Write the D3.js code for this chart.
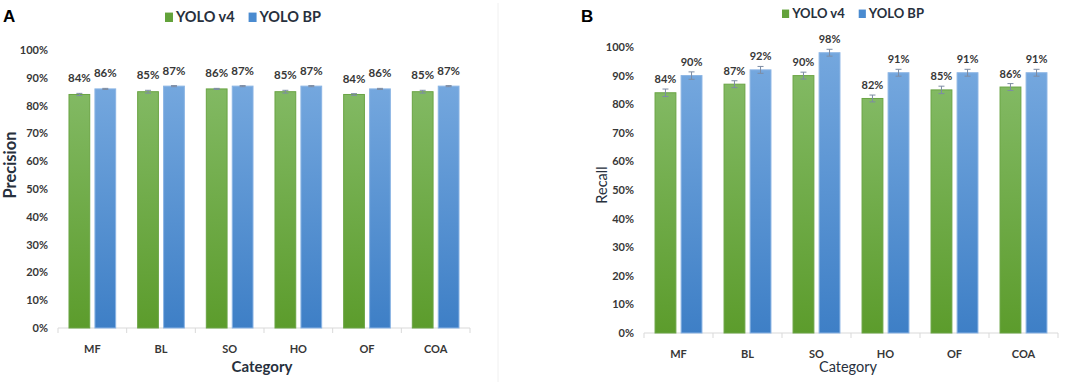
<!DOCTYPE html>
<html>
<head>
<meta charset="utf-8">
<script src="https://cdn.jsdelivr.net/npm/d3@7"></script>
<style>
  body { margin: 0; background: #fff; }
  svg { display: block; font-family: Lato, "Open Sans", sans-serif; }
</style>
</head>
<body>
<svg id="chart" width="1084" height="382"></svg>
<script>
// categories and series
const categories = ['MF', 'BL', 'SO', 'HO', 'OF', 'COA'];
const seriesNames = ['YOLO v4', 'YOLO BP'];

// precision (panel A), percent
const precisionV4 = [84, 85, 86, 85, 84, 85];
const precisionBP = [86, 87, 87, 87, 86, 87];
const precisionErrV4 = [0.4, 0.5, 0.2, 0.5, 0.3, 0.5];
const precisionErrBP = [0.2, 0.2, 0.2, 0.2, 0.2, 0.2];

// recall (panel B), percent
const recallV4 = [84, 87, 90, 82, 85, 86];
const recallBP = [90, 92, 98, 91, 91, 91];
const recallErrV4 = [1.3, 1.2, 1.2, 1.2, 1.3, 1.2];
const recallErrBP = [1.3, 1.2, 1.2, 1.2, 1.2, 1.2];

const yTicks = [0, 10, 20, 30, 40, 50, 60, 70, 80, 90, 100];

const svg = d3.select('#chart');
const textColor = '#373737';

// bar gradients
const defs = svg.append('defs');
function addGradient(id, top, bottom) {
  const g = defs.append('linearGradient')
    .attr('id', id)
    .attr('x1', 0).attr('y1', 0).attr('x2', 0).attr('y2', 1);
  g.append('stop').attr('offset', '0%').attr('stop-color', top);
  g.append('stop').attr('offset', '100%').attr('stop-color', bottom);
}
addGradient('grad-green', '#82b963', '#5c9c2c');
addGradient('grad-blue', '#74a7de', '#3e7fc6');

const fills = ['url(#grad-green)', 'url(#grad-blue)'];
const strokes = ['#6aa444', '#8ab4e4'];
const swatch = ['#62a23a', '#4a8bd0'];

// faint divider between panels
svg.append('line')
  .attr('x1', 498).attr('x2', 498)
  .attr('y1', 3).attr('y2', 382)
  .style('stroke', '#f0f0f0')
  .style('stroke-width', 1);

/**
 * Draw one grouped bar panel with error bars
 */
function drawPanel(p) {
  const g = svg.append('g');

  const x = d3.scaleBand()
    .domain(categories)
    .range([p.x0, p.x1]);

  const bw = x.bandwidth();
  const xInner = d3.scaleBand()
    .domain(seriesNames)
    .range([bw * 0.16, bw * 0.84])
    .paddingInner(0.2);

  const y = d3.scaleLinear()
    .domain([0, 100])
    .range([p.yBottom, p.yTop]);

  // panel letter
  g.append('text')
    .attr('x', p.letterX).attr('y', 22)
    .style('font-family', 'Liberation Sans, Arial, sans-serif')
    .style('font-weight', 'bold')
    .style('font-size', '17px')
    .style('fill', '#000')
    .text(p.letter);

  // legend
  const legend = g.append('g')
    .attr('transform', `translate(${p.legendX}, ${p.legendY})`);
  let lx = 0;
  seriesNames.forEach((name, i) => {
    legend.append('rect')
      .attr('x', lx).attr('y', -p.legendSize * 0.65)
      .attr('width', p.legendSize * 0.55)
      .attr('height', p.legendSize * 0.65)
      .style('fill', swatch[i]);
    const t = legend.append('text')
      .attr('x', lx + p.legendSize * 0.55 + 3)
      .attr('y', 0)
      .style('font-weight', 'bold')
      .style('font-size', p.legendSize + 'px')
      .style('fill', '#27303d')
      .text(name);
    lx += p.legendSize * 0.55 + 3 + t.node().getComputedTextLength() + p.legendGap;
  });

  // y axis: labels only
  const yAxis = d3.axisLeft(y)
    .tickValues(yTicks)
    .tickSize(0)
    .tickPadding(0)
    .tickFormat(d => d + '%');
  const yg = g.append('g')
    .attr('transform', `translate(${p.x0 - 10}, 0)`)
    .call(yAxis);
  yg.select('.domain').remove();
  yg.selectAll('text')
    .style('font-family', 'Lato, sans-serif')
    .style('font-size', '11px')
    .style('font-weight', 'bold')
    .style('fill', textColor);

  // x axis baseline with boundary ticks
  const xAxis = d3.axisBottom(x).tickSize(0).tickPadding(17);
  const xg = g.append('g')
    .attr('transform', `translate(0, ${p.yBottom})`)
    .call(xAxis);
  xg.select('.domain')
    .attr('d', `M${p.x0},0H${p.x1}`)
    .style('stroke', '#d9d9d9');
  xg.selectAll('text')
    .style('font-family', 'Lato, sans-serif')
    .style('font-size', '11px')
    .style('font-weight', 'bold')
    .style('fill', textColor);
  xg.selectAll('.boundary')
    .data(categories.concat(['end']))
    .enter().append('line')
    .attr('class', 'boundary')
    .attr('x1', d => d === 'end' ? p.x1 : x(d))
    .attr('x2', d => d === 'end' ? p.x1 : x(d))
    .attr('y1', 0).attr('y2', 5)
    .style('stroke', '#d9d9d9');

  // axis titles
  g.append('text')
    .attr('transform', `translate(${p.yTitleX}, ${p.yTitleY}) rotate(-90)`)
    .attr('text-anchor', 'middle')
    .style('font-weight', p.titleWeight)
    .style('font-size', p.yTitleSize + 'px')
    .style('fill', '#27303d')
    .text(p.yTitle);

  g.append('text')
    .attr('x', p.xTitleX)
    .attr('y', 372)
    .attr('text-anchor', 'middle')
    .style('font-weight', p.titleWeight)
    .style('font-size', p.xTitleSize + 'px')
    .style('fill', '#27303d')
    .text('Category');

  // bars
  const rows = categories.map((c, i) => ({
    cat: c,
    items: p.values.map((vals, s) => ({
      series: seriesNames[s], idx: s, value: vals[i], err: p.errors[s][i]
    }))
  }));

  const groups = g.selectAll('.cat')
    .data(rows)
    .enter().append('g')
    .attr('class', 'cat')
    .attr('transform', d => `translate(${x(d.cat)}, 0)`);

  const bars = groups.selectAll('.bar')
    .data(d => d.items)
    .enter().append('g')
    .attr('class', 'bar');

  bars.append('rect')
    .attr('x', d => xInner(d.series))
    .attr('y', d => y(d.value))
    .attr('width', xInner.bandwidth())
    .attr('height', d => y(0) - y(d.value))
    .style('fill', d => fills[d.idx])
    .style('stroke', d => strokes[d.idx])
    .style('stroke-width', 1);

  // error bars
  const cap = 3;
  bars.append('line')
    .attr('x1', d => xInner(d.series) + xInner.bandwidth() / 2)
    .attr('x2', d => xInner(d.series) + xInner.bandwidth() / 2)
    .attr('y1', d => y(d.value - d.err))
    .attr('y2', d => y(d.value + d.err))
    .style('stroke', '#7d8ca3')
    .style('stroke-width', 1);
  bars.selectAll('.cap')
    .data(d => [
      { d, v: d.value - d.err },
      { d, v: d.value + d.err }
    ])
    .enter().append('line')
    .attr('class', 'cap')
    .attr('x1', e => xInner(e.d.series) + xInner.bandwidth() / 2 - cap)
    .attr('x2', e => xInner(e.d.series) + xInner.bandwidth() / 2 + cap)
    .attr('y1', e => y(e.v))
    .attr('y2', e => y(e.v))
    .style('stroke', '#7d8ca3')
    .style('stroke-width', 1);

  // value labels
  bars.append('text')
    .attr('x', d => xInner(d.series) + xInner.bandwidth() / 2)
    .attr('y', d => y(d.value + d.err) - p.labelOffset)
    .attr('text-anchor', 'middle')
    .style('font-family', 'Lato, sans-serif')
    .style('font-size', p.labelSize + 'px')
    .style('font-weight', 'bold')
    .style('fill', textColor)
    .text(d => d.value + '%');
}

drawPanel({
  letter: 'A', letterX: 3,
  x0: 58, x1: 470, yTop: 50, yBottom: 328,
  legendX: 165, legendY: 22, legendSize: 14.5, legendGap: 14,
  yTitle: 'Precision', yTitleX: 16, yTitleY: 165, yTitleSize: 16.5,
  xTitleX: 262, xTitleSize: 15, titleWeight: 'bold',
  labelOffset: 11, labelSize: 11.5,
  values: [precisionV4, precisionBP],
  errors: [precisionErrV4, precisionErrBP]
});

drawPanel({
  letter: 'B', letterX: 581,
  x0: 644, x1: 1058, yTop: 47, yBottom: 333,
  legendX: 782, legendY: 18, legendSize: 13, legendGap: 14,
  yTitle: 'Recall', yTitleX: 607, yTitleY: 185, yTitleSize: 14.5,
  xTitleX: 848, xTitleSize: 14.5, titleWeight: 'normal',
  labelOffset: 6, labelSize: 11,
  values: [recallV4, recallBP],
  errors: [recallErrV4, recallErrBP]
});
</script>
</body>
</html>
